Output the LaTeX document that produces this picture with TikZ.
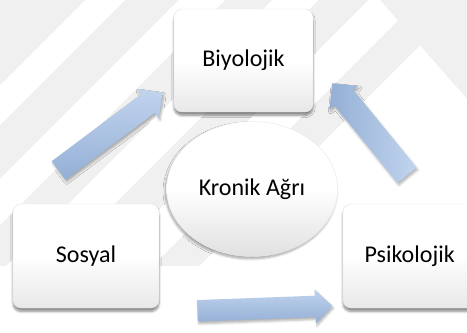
\documentclass[tikz,border=0pt]{standalone}
\usepackage{fontspec}
\setmainfont{Carlito}
\usetikzlibrary{shapes.geometric,shapes.arrows,shadows.blur,positioning}
\definecolor{BlueL}{RGB}{193,212,238}
\definecolor{BlueD}{RGB}{148,175,213}
\definecolor{Mark}{RGB}{240,240,240}

\tikzset{
  factor/.style={rectangle,rounded corners=7pt,draw=black!10,
    top color=white,bottom color=black!9,middle color=white,
    blur shadow={shadow xshift=0pt,shadow yshift=-3pt,shadow opacity=45,shadow blur steps=6},
    font=\fontsize{20.5}{24}\selectfont},
  core/.style={ellipse,draw=black!8,
    top color=white,bottom color=black!12,middle color=white,
    blur shadow={shadow xshift=-1pt,shadow yshift=-2pt,shadow opacity=35,shadow blur steps=6},
    font=\fontsize{20.5}{24}\selectfont},
  blockarrow/.style={single arrow,inner sep=0.34cm,single arrow head extend=0.2cm,
    top color=BlueL,bottom color=BlueD,
    blur shadow={shadow xshift=1pt,shadow yshift=-2pt,shadow opacity=30,shadow blur steps=4}},
}

\begin{document}
\begin{tikzpicture}
  \useasboundingbox (0,0) rectangle (14.01,9.96);
  \clip (0,0) rectangle (14.01,9.96);
  % faint watermark
  \begin{scope}
    \clip (0,2.0) rectangle (14.01,9.96);
    \foreach \a/\b in {-11/-7.4,-6.2/-4.6,-3.2/-1.8,-0.4/1.1,2.6/4.0}
      \fill[Mark] (\a-10,-10) -- (\a+20,20) -- (\b+20,20) -- (\b-10,-10) -- cycle;
    \fill[Mark] (11.4,9.96) -- (14.01,9.96) -- (14.01,7.0) -- cycle;
  \end{scope}

  % factors
  \node[factor,minimum width=4.17cm,minimum height=3.09cm] (bio) at (7.305,8.145) {Biyolojik};
  \node[factor,minimum width=4.38cm,minimum height=3.12cm] (sos) at (2.58,2.28) {Sosyal};
  \node[factor,minimum width=4.0cm,minimum height=3.12cm] (psi) at (12.29,2.28) {Psikolojik};
  \node[core,minimum width=5.13cm,minimum height=4.05cm] (kronik) at (7.56,4.29) {Kronik Ağrı};

  % block arrows
  \coordinate (sosA) at (1.62,4.74);
  \coordinate (bioA) at (4.74,7.08);
  \coordinate (psiA) at (12.33,4.56);
  \coordinate (bioB) at (10.08,7.32);
  \coordinate (sosB) at (5.76,0.63);
  \coordinate (psiB) at (9.81,0.78);
  \path (sosA) -- (bioA) node[blockarrow,midway,sloped,minimum height=3.9cm] {};
  \path (psiA) -- (bioB) node[blockarrow,midway,sloped,allow upside down,
    left color=BlueD,right color=BlueL,inner sep=0.36cm,
    single arrow head extend=0.19cm,minimum height=3.56cm] {};
  \path (sosB) -- (psiB) node[blockarrow,midway,sloped,inner sep=0.315cm,
    single arrow head extend=0.19cm,minimum height=4.05cm] {};
\end{tikzpicture}
\end{document}
